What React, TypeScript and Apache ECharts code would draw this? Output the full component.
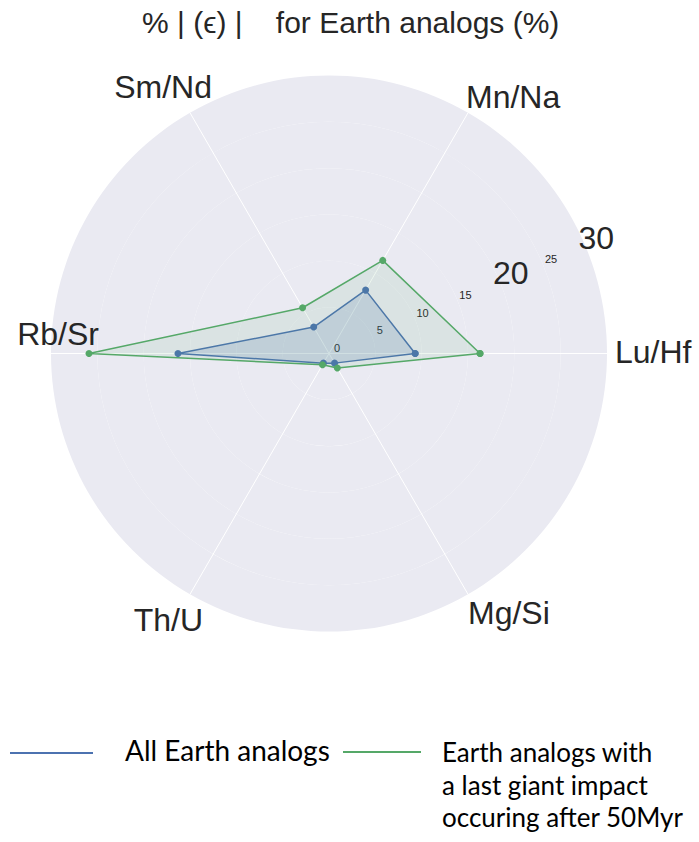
import React, { useEffect, useRef } from "react";
import * as echarts from "echarts";

// ---- data ----
const categories = ["Lu/Hf", "Mn/Na", "Sm/Nd", "Rb/Sr", "Th/U", "Mg/Si"];
const allAnalogs = [9.3, 7.9, 3.3, 16.3, 1.2, 1.2];
const lateImpact = [16.3, 11.6, 5.7, 25.9, 1.4, 1.8];
const radialMax = 30;
const radialStep = 5;
const bigRadialTicks = [20, 30];
const seriesNames = [
  "All Earth analogs",
  "Earth analogs with a last giant impact occuring after 50Myr",
];
const legendLabels = [
  "All Earth analogs",
  "Earth analogs with\na last giant impact\noccuring after 50Myr",
];
const titleText = "% | (\u03f5) |    for Earth analogs (%)";

// per-category label offsets (padding in rich tokens) [top, right, bottom, left]
const catPadding: number[][] = [
  [0, 0, 3, 76],
  [0, 0, 117, 32],
  [0, 12, 138, 0],
  [0, 20, 40, 0],
  [137, 21, 0, 0],
  [123, 0, 0, 34],
];

const BLUE = "#4C72B0";
const GREEN = "#55A868";
const TXT = "#262626";
const FONT = "'Liberation Sans', Arial, sans-serif";
const LEGEND_FONT = "Lato, 'Open Sans', sans-serif";

function closedData(vals: number[]) {
  const step = 360 / categories.length;
  const d = vals.map((v, i) => [v, i * step]);
  d.push([vals[0], 360]);
  return d;
}

export default function App() {
  const ref = useRef<HTMLDivElement>(null);
  useEffect(() => {
    if (!ref.current) return;
    const chart = echarts.init(ref.current, undefined, { renderer: "svg" });
    const center = [329, 353.5];
    const R = 278;
    const step = 360 / categories.length;

    const catRich: any = {};
    categories.forEach((_, i) => {
      catRich["c" + i] = {
        fontSize: 32,
        fontFamily: FONT,
        color: TXT,
        lineHeight: 32,
        padding: catPadding[i],
      };
    });

    const option: any = {
      animation: false,
      backgroundColor: "#ffffff",
      title: {
        text: titleText,
        left: 142,
        top: 7.5,
        padding: 0,
        textStyle: {
          fontFamily: FONT,
          fontSize: 30,
          fontWeight: "normal",
          color: TXT,
        },
      },
      legend: [
        {
          data: [seriesNames[0]],
          left: 10,
          top: 735.5,
          padding: 0,
          orient: "horizontal",
          icon: "rect",
          itemWidth: 83,
          itemHeight: 2,
          formatter: () => "{t|" + legendLabels[0] + "}",
          textStyle: {
            fontFamily: LEGEND_FONT,
            fontSize: 28,
            color: "#000000",
            lineHeight: 32,
            rich: {
              t: {
                fontFamily: LEGEND_FONT,
                fontSize: 28,
                color: "#000000",
                lineHeight: 32,
                padding: [0, 0, 7, 27],
              },
            },
          },
          selectedMode: false,
        },
        {
          data: [seriesNames[1]],
          left: 343,
          top: 670.75,
          padding: 0,
          orient: "horizontal",
          icon: "rect",
          itemWidth: 78,
          itemHeight: 2,
          formatter: () => "\n\n" + legendLabels[1],
          textStyle: {
            fontFamily: LEGEND_FONT,
            fontSize: 26,
            color: "#000000",
            lineHeight: 32.5,
            padding: [0, 0, 0, 16],
          },
          selectedMode: false,
        },
      ],
      polar: [
        { center, radius: R },
        { center, radius: R },
      ],
      angleAxis: [
        {
          polarIndex: 0,
          type: "value",
          min: 0,
          max: 360,
          interval: step,
          startAngle: 0,
          clockwise: false,
          axisLine: { show: false },
          axisTick: { show: false },
          splitLine: { show: true, lineStyle: { color: "#ffffff", width: 1 } },
          axisLabel: {
            show: true,
            margin: 210 - R,
            formatter: (v: number) => {
              const i = Math.round(v / step);
              if (i >= categories.length) return "";
              return "{c" + i + "|" + categories[i] + "}";
            },
            rich: catRich,
          },
          z: 1,
        },
        {
          polarIndex: 1,
          type: "value",
          min: 0,
          max: 360,
          startAngle: 22.5,
          clockwise: false,
          show: false,
        },
      ],
      radiusAxis: [
        {
          polarIndex: 0,
          type: "value",
          min: 0,
          max: radialMax,
          interval: radialStep,
          axisLine: { show: false },
          axisTick: { show: false },
          axisLabel: { show: false },
          splitLine: { show: true, lineStyle: { color: "#ffffff", width: 1 } },
          splitArea: { show: true, areaStyle: { color: ["#EAEAF2", "#EAEAF2"] } },
          z: 0,
        },
        {
          polarIndex: 1,
          type: "value",
          min: 0,
          max: radialMax,
          interval: radialStep,
          axisLine: { show: false },
          axisTick: { show: false },
          splitLine: { show: false },
          splitArea: { show: false },
          axisLabel: {
            show: true,
            margin: 0,
            align: "center",
            verticalAlign: "middle",
            showMinLabel: true,
            showMaxLabel: true,
            formatter: (v: number) =>
              bigRadialTicks.indexOf(v) >= 0 ? "{big|" + v + "}" : "{small|" + v + "}",
            rich: {
              small: {
                fontSize: 11,
                fontFamily: FONT,
                color: TXT,
                lineHeight: 12,
                padding: [0, 0, 11, 16],
              },
              big: {
                fontSize: 32,
                fontFamily: FONT,
                color: TXT,
                lineHeight: 32,
                padding: [0, 0, 19, 21],
              },
            },
          },
          z: 1,
        },
      ],
      series: [
        {
          name: seriesNames[0],
          type: "line",
          coordinateSystem: "polar",
          polarIndex: 0,
          data: closedData(allAnalogs),
          color: BLUE,
          symbol: "circle",
          symbolSize: 7,
          lineStyle: { color: BLUE, width: 1.5 },
          itemStyle: { color: BLUE },
          areaStyle: { color: "rgba(76,114,176,0.25)" },
          z: 3,
        },
        {
          name: seriesNames[1],
          type: "line",
          coordinateSystem: "polar",
          polarIndex: 0,
          data: closedData(lateImpact),
          color: GREEN,
          symbol: "circle",
          symbolSize: 7,
          lineStyle: { color: GREEN, width: 1.5 },
          itemStyle: { color: GREEN },
          areaStyle: { color: "rgba(85,168,104,0.15)" },
          z: 4,
        },
      ],
    };
    chart.setOption(option);
    return () => chart.dispose();
  }, []);
  return (
    <div
      ref={ref}
      style={{ position: "absolute", left: 0, top: 0, width: 699, height: 842 }}
    />
  );
}
